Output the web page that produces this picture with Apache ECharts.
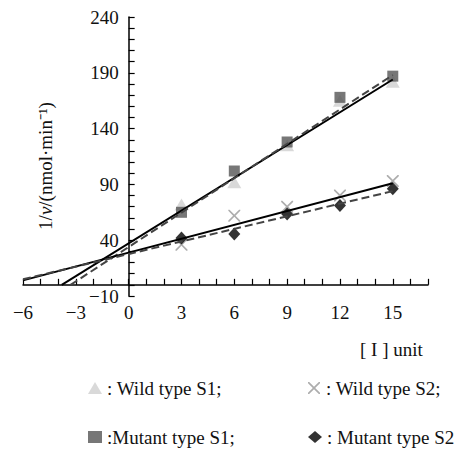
<!DOCTYPE html>
<html>
<head>
<meta charset="utf-8">
<script src="https://cdn.jsdelivr.net/npm/echarts@6/dist/echarts.min.js"></script>
<style>
html,body{margin:0;padding:0;background:#fff;}
#chart{width:457px;height:449px;}
</style>
</head>
<body>
<div id="chart"></div>
<script>
// ---- data ----
const concentrations = [3, 6, 9, 12, 15];
const wildS1 = [72, 92, 125, 165, 182];
const mutantS1 = [65, 102, 128, 168, 187];
const wildS2 = [36, 62, 70, 80, 93];
const mutantS2 = [42, 45.5, 63.5, 71, 86];
// fitted trend lines (end points)
const wildS1Fit = [[-3.8, 0], [15, 184]];
const mutantS1Fit = [[-3.3, 0], [15, 188]];
const wildS2Fit = [[-6, 4], [15, 91]];
const mutantS2Fit = [[-6, 5], [15, 84]];
const yLabelValues = [-10, 40, 90, 140, 190, 240];
const xLabelValues = [-6, -3, 0, 3, 6, 9, 12, 15];

const FONT = '"Liberation Serif", "Times New Roman", serif';
const crossPath = 'path://M0,0 L2,0 L10,8 L18,0 L20,0 L20,2 L12,10 L20,18 L20,20 L18,20 L10,12 L2,20 L0,20 L0,18 L8,10 L0,2 Z';

function pts(ys) { return concentrations.map((x, i) => [x, ys[i]]); }
function minus(v) { return String(v).replace('-', '\u2212'); }

const W = 457, GL = 23, GR = 29, XMIN = -6, XMAX = 17;
const gridW = W - GL - GR;
const zeroOffset = -gridW * (0 - XMIN) / (XMAX - XMIN); // shift y axis onto x = 0

const chart = echarts.init(document.getElementById('chart'), null, {renderer: 'svg'});
const legendText = {fontFamily: FONT, fontSize: 19, color: '#111', lineHeight: 20};
chart.setOption({
  animation: false,
  backgroundColor: '#fff',
  grid: {left: GL, right: GR, top: 17, bottom: 153, containLabel: false, outerBoundsMode: 'none'},
  xAxis: {
    type: 'value', min: XMIN, max: XMAX, interval: 1,
    axisLine: {onZero: true, lineStyle: {color: '#000', width: 1.5}},
    axisTick: {show: true, inside: true, length: 6, lineStyle: {color: '#000', width: 1.2}},
    splitLine: {show: false},
    axisLabel: {
      margin: 7, fontFamily: FONT, fontSize: 19, color: '#111',
      formatter: v => xLabelValues.indexOf(v) >= 0 ? minus(v) : ''
    }
  },
  yAxis: {
    type: 'value', min: -10, max: 240, interval: 10,
    offset: zeroOffset,
    axisLine: {show: true, onZero: false, lineStyle: {color: '#000', width: 1.5}},
    axisTick: {show: true, inside: true, length: 6, lineStyle: {color: '#000', width: 1.2}},
    splitLine: {show: false},
    axisLabel: {
      margin: 10, fontFamily: FONT, fontSize: 19, color: '#111',
      formatter: v => yLabelValues.indexOf(v) >= 0 ? minus(v) : ''
    }
  },
  legend: [
    {data: ['Wild type S1'], left: 88, top: 378, padding: 0, itemWidth: 14, itemHeight: 12, formatter: ': {name};', textStyle: legendText},
    {data: ['Wild type S2'], left: 308, top: 378, padding: 0, itemWidth: 14, itemHeight: 12, formatter: ': {name};', textStyle: legendText},
    {data: ['Mutant type S1'], left: 88, top: 427, padding: 0, itemWidth: 14, itemHeight: 12, formatter: ':{name};', textStyle: legendText},
    {data: ['Mutant type S2'], left: 308, top: 427, padding: 0, itemWidth: 14, itemHeight: 12, formatter: ': {name}', textStyle: legendText}
  ],
  series: [
    {name: 'Wild type S1', type: 'scatter', data: pts(wildS1), symbol: 'triangle', symbolSize: [14, 12], itemStyle: {color: '#cfcfcf'}, z: 2},
    {name: 'Mutant type S1', type: 'scatter', data: pts(mutantS1), symbol: 'rect', symbolSize: 11, itemStyle: {color: '#555'}, z: 2},
    {name: 'Wild type S2', type: 'scatter', data: pts(wildS2), symbol: crossPath, symbolSize: 12, itemStyle: {color: '#999'}, z: 2},
    {name: 'Mutant type S2', type: 'scatter', data: pts(mutantS2), symbol: 'diamond', symbolSize: [12, 13], itemStyle: {color: '#000'}, z: 2},
    {type: 'line', data: wildS1Fit, symbol: 'none', lineStyle: {color: '#000', width: 2}, z: 3, silent: true},
    {type: 'line', data: mutantS1Fit, symbol: 'none', lineStyle: {color: '#444', width: 2, type: [8, 4]}, z: 3, silent: true},
    {type: 'line', data: wildS2Fit, symbol: 'none', lineStyle: {color: '#000', width: 2}, z: 3, silent: true},
    {type: 'line', data: mutantS2Fit, symbol: 'none', lineStyle: {color: '#444', width: 2, type: [8, 4]}, z: 3, silent: true}
  ],
  graphic: [
    {type: 'text', x: 45, y: 166, rotation: Math.PI / 2,
     style: {text: '1/{i|v}/(nmol\u00b7min\u207b\u00b9)', fontFamily: FONT, fontSize: 19, fill: '#111',
             align: 'center', verticalAlign: 'middle',
             rich: {i: {fontStyle: 'italic', fontFamily: FONT, fontSize: 19, fill: '#111'}}}},
    {type: 'text', x: 360, y: 349,
     style: {text: '[ I ] unit', fontFamily: FONT, fontSize: 19, fill: '#111', align: 'left', verticalAlign: 'middle'}}
  ]
});
</script>
</body>
</html>
